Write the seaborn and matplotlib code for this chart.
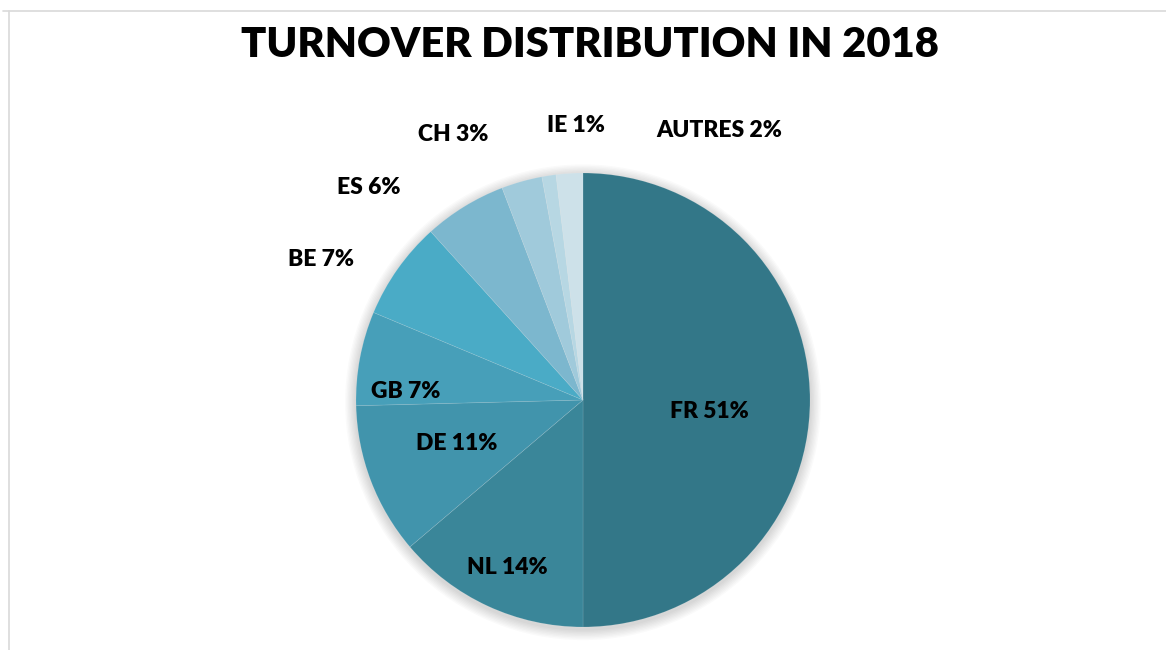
import numpy as np
import seaborn as sns
import matplotlib.pyplot as plt
from matplotlib.lines import Line2D
from matplotlib.patches import Circle

# datos (porcentajes del volumen de negocios 2018)
pays = ['FR', 'NL', 'DE', 'GB', 'BE', 'ES', 'CH', 'IE', 'AUTRES']
parts = [50.0, 13.8, 10.8, 6.7, 7.0, 5.9, 2.9, 1.0, 1.9]
etiquettes = ['51%', '14%', '11%', '7%', '7%', '6%', '3%', '1%', '2%']
couleurs = ['#337788', '#3a8699', '#4194ac', '#479fb9', '#4aabc6',
            '#7cb7ce', '#a0cadb', '#b7d7e3', '#cde1e9']

# position des etiquettes : (rayon relatif, angle en degres)
pos_etiq = [(0.56, -5), (0.81, 245.8), (0.59, 199), (0.78, 177.4),
            (1.31, 151.9), (1.33, 135.3), (1.30, 116), (1.21, 91.5), (1.33, 63.1)]

sns.set_theme(style="white")
plt.rcParams['font.family'] = ['Lato', 'DejaVu Sans']

fig = plt.figure(figsize=(11.66, 6.5), dpi=100)
ax = fig.add_axes([0, 0, 1, 1])
echelle = 227.0  # pixels par unite de rayon

# ombre douce autour du camembert
for i in range(8):
    ax.add_patch(Circle((0, -0.01), 1.0 + 0.006 * (i + 1), color='black',
                        alpha=0.018, lw=0, zorder=0))

ax.pie(parts, colors=couleurs, startangle=90, counterclock=False, radius=1.0,
       wedgeprops=dict(edgecolor=(1, 1, 1, 0.15), linewidth=0.5, zorder=1))
ax.set_xlim(-583 / echelle, (1166 - 583) / echelle)
ax.set_ylim(-(650 - 400) / echelle, 400 / echelle)
ax.set_aspect('auto')
ax.axis('off')

for p, e, (r, ang) in zip(pays, etiquettes, pos_etiq):
    a = np.deg2rad(ang)
    ax.text(r * np.cos(a), r * np.sin(a), f'{p} {e}', ha='center', va='center',
            fontsize=16.5, fontweight='heavy', color='black', zorder=3)

fig.text(590 / 1166, 1 - 45 / 650, 'TURNOVER DISTRIBUTION IN 2018', ha='center',
         va='center', fontsize=30, fontweight='heavy', color='black')

# cadre du graphique
fig.add_artist(Line2D([3 / 1166, 1], [1 - 10.5 / 650] * 2, color='#d9d9d9', lw=1.2))
fig.add_artist(Line2D([8.5 / 1166] * 2, [0, 1 - 10.5 / 650], color='#d9d9d9', lw=1.2))

fig.savefig('out.png', dpi=100)
